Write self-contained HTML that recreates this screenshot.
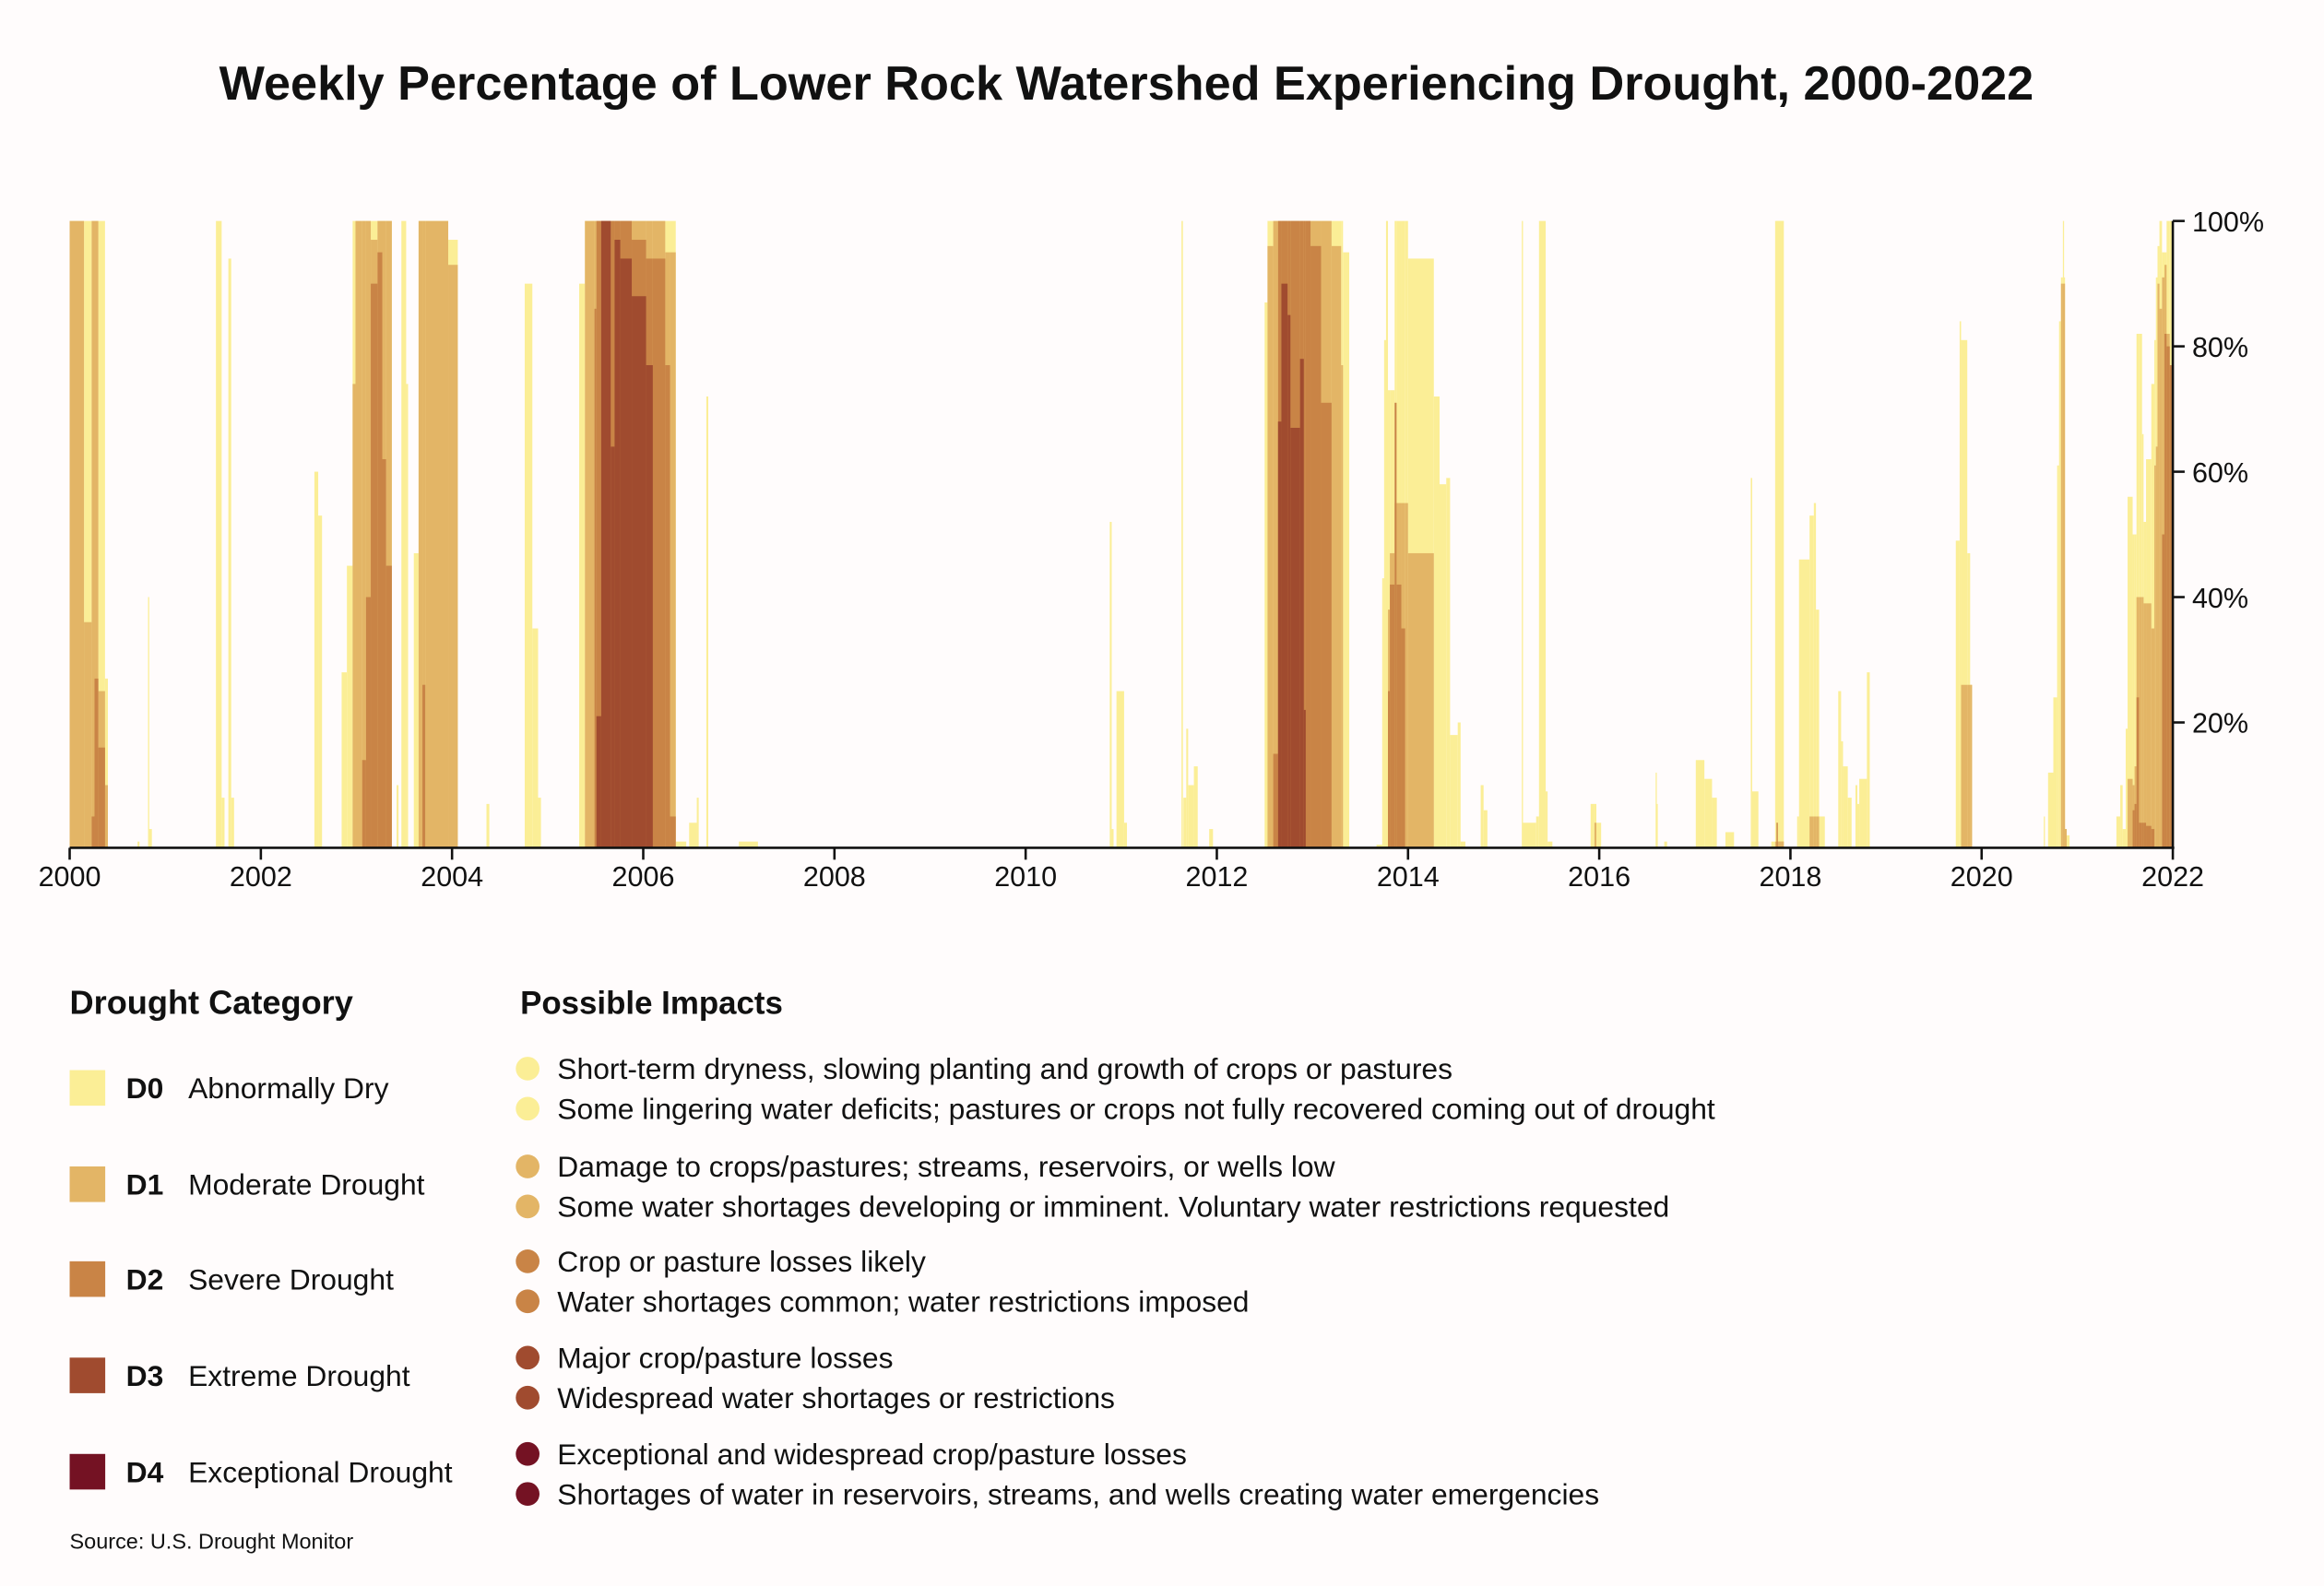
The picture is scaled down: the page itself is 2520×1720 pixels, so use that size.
<!DOCTYPE html>
<html><head><meta charset="utf-8"><style>
html,body{margin:0;padding:0;background:#fffcfc;}
svg{display:block;}
text{font-family:"Liberation Sans",sans-serif;fill:#111;}
</style></head><body>
<svg id="chart" width="2520" height="1720" viewBox="0 0 1568 1070" xmlns="http://www.w3.org/2000/svg">
<rect x="0" y="0" width="1568" height="1070" fill="#fffcfc"/>
<text x="760" y="67" text-anchor="middle" font-size="32.5" font-weight="bold">Weekly Percentage of Lower Rock Watershed Experiencing Drought, 2000-2022</text>
<g id="bars"></g>
<g id="axes"></g>

<text x="47" y="684" font-size="22.5" font-weight="bold">Drought Category</text>
<g font-size="19.8">
<rect x="47" y="722" width="24" height="24" fill="#fbee96"/>
<text x="85" y="741" font-weight="bold">D0</text>
<text x="127" y="741">Abnormally Dry</text>
<rect x="47" y="787" width="24" height="24" fill="#e3b566"/>
<text x="85" y="806" font-weight="bold">D1</text>
<text x="127" y="806">Moderate Drought</text>
<rect x="47" y="851" width="24" height="24" fill="#c98446"/>
<text x="85" y="870" font-weight="bold">D2</text>
<text x="127" y="870">Severe Drought</text>
<rect x="47" y="916" width="24" height="24" fill="#a04b2f"/>
<text x="85" y="935" font-weight="bold">D3</text>
<text x="127" y="935">Extreme Drought</text>
<rect x="47" y="981" width="24" height="24" fill="#741223"/>
<text x="85" y="1000" font-weight="bold">D4</text>
<text x="127" y="1000">Exceptional Drought</text>
</g>

<text x="351" y="684" font-size="21.7" font-weight="bold">Possible Impacts</text>
<g font-size="19.8">
<circle cx="356" cy="721" r="8" fill="#fbee96"/>
<text x="376" y="728">Short-term dryness, slowing planting and growth of crops or pastures</text>
<circle cx="356" cy="748" r="8" fill="#fbee96"/>
<text x="376" y="755">Some lingering water deficits; pastures or crops not fully recovered coming out of drought</text>
<circle cx="356" cy="787" r="8" fill="#e3b566"/>
<text x="376" y="794">Damage to crops/pastures; streams, reservoirs, or wells low</text>
<circle cx="356" cy="814" r="8" fill="#e3b566"/>
<text x="376" y="821">Some water shortages developing or imminent. Voluntary water restrictions requested</text>
<circle cx="356" cy="851" r="8" fill="#c98446"/>
<text x="376" y="858">Crop or pasture losses likely</text>
<circle cx="356" cy="878" r="8" fill="#c98446"/>
<text x="376" y="885">Water shortages common; water restrictions imposed</text>
<circle cx="356" cy="916" r="8" fill="#a04b2f"/>
<text x="376" y="923">Major crop/pasture losses</text>
<circle cx="356" cy="943" r="8" fill="#a04b2f"/>
<text x="376" y="950">Widespread water shortages or restrictions</text>
<circle cx="356" cy="981" r="8" fill="#741223"/>
<text x="376" y="988">Exceptional and widespread crop/pasture losses</text>
<circle cx="356" cy="1008" r="8" fill="#741223"/>
<text x="376" y="1015">Shortages of water in reservoirs, streams, and wells creating water emergencies</text>
</g>
<text x="47" y="1045" font-size="14.6" fill="#333">Source: U.S. Drought Monitor</text>
</svg>
<script>
// Episode data: start year, end year, and % area at >=D0, >=D1, >=D2, >=D3
const segStart = [2000,2000.15,2000.23,2000.26,2000.30,2000.37,2000.71,2000.82,2000.83,2001.53,2001.59,2001.66,2001.69,2002.56,2002.6,
2002.845,2002.9,2002.96,2002.99,2003.06,2003.1,2003.15,2003.22,2003.27,2003.31,2003.42,2003.47,2003.52,2003.6,2003.65,2003.69,2003.72,2003.96,
2004.36,2004.76,2004.84,2004.9,
2005.33,2005.39,2005.49,2005.51,2005.56,2005.66,2005.7,2005.76,2005.88,2006.03,2006.1,2006.23,2006.28,2006.34,2006.48,2006.56,2006.66,2007.0,
2010.88,2010.9,2010.95,2011.03,2011.63,2011.65,2011.68,2011.7,2011.76,2011.92,
2012.5,2012.53,2012.59,2012.64,2012.675,2012.74,2012.77,2012.87,2012.91,2012.93,2012.98,2013.09,2013.2,2013.3,2013.32,
2013.67,2013.73,2013.75,2013.77,2013.79,2013.81,2013.86,2013.88,2013.93,2013.97,2014.0,2014.27,2014.33,2014.4,2014.44,2014.52,2014.55,2014.76,2014.79,
2015.19,2015.2,2015.34,2015.37,2015.44,2015.46,2015.91,2015.95,2015.97,2016.59,2016.6,2016.68,
2017.01,2017.1,2017.18,2017.32,2017.585,2017.6,2017.8,2017.84,2017.855,2017.865,
2018.07,2018.09,2018.2,2018.245,2018.267,2018.3,2018.5,2018.53,2018.55,2018.6,2018.68,2018.7,2018.72,2018.8,
2019.73,2019.77,2019.785,2019.85,2019.88,
2020.65,2020.695,2020.75,2020.79,2020.81,2020.83,2020.85,2020.86,2020.87,2020.89,
2021.41,2021.45,2021.475,2021.507,2021.527,2021.58,2021.6,2021.62,2021.646,2021.678,2021.694,2021.72,2021.775,2021.807,2021.823,2021.84,2021.86,2021.887,2021.913,2021.935,2021.968];
const segEnd = [2000.15,2000.23,2000.26,2000.30,2000.37,2000.40,2000.73,2000.83,2000.86,2001.59,2001.62,2001.69,2001.72,2002.6,2002.64,
2002.9,2002.96,2002.99,2003.06,2003.1,2003.15,2003.22,2003.27,2003.31,2003.37,2003.44,2003.52,2003.54,2003.65,2003.69,2003.72,2003.96,2004.06,
2004.39,2004.84,2004.9,2004.93,
2005.39,2005.49,2005.51,2005.56,2005.66,2005.7,2005.76,2005.88,2006.03,2006.1,2006.23,2006.28,2006.34,2006.45,2006.56,2006.58,2006.68,2007.2,
2010.9,2010.92,2011.03,2011.06,2011.645,2011.68,2011.7,2011.76,2011.8,2011.96,
2012.53,2012.59,2012.64,2012.675,2012.74,2012.77,2012.87,2012.91,2012.93,2012.98,2013.09,2013.2,2013.3,2013.32,2013.385,
2013.73,2013.75,2013.77,2013.79,2013.81,2013.86,2013.88,2013.93,2013.97,2014.0,2014.27,2014.33,2014.4,2014.44,2014.52,2014.55,2014.6,2014.79,2014.83,
2015.2,2015.34,2015.37,2015.44,2015.46,2015.51,2015.95,2015.97,2016.02,2016.6,2016.61,2016.71,
2017.1,2017.18,2017.23,2017.41,2017.6,2017.665,2017.84,2017.93,2017.865,2017.93,
2018.09,2018.2,2018.245,2018.267,2018.3,2018.36,2018.53,2018.55,2018.6,2018.64,2018.7,2018.72,2018.8,2018.83,
2019.77,2019.785,2019.85,2019.88,2019.9,
2020.66,2020.75,2020.79,2020.81,2020.83,2020.85,2020.86,2020.87,2020.89,2020.92,
2021.45,2021.475,2021.507,2021.527,2021.58,2021.6,2021.62,2021.646,2021.678,2021.694,2021.72,2021.775,2021.807,2021.823,2021.84,2021.86,2021.887,2021.913,2021.935,2021.968,2022.01];
const valD0 = [100,100,100,100,100,27,1,40,3,100,8,94,8,60,53,
28,45,100,100,100,100,100,100,100,100,10,100,74,47,100,100,100,97,
7,90,35,8,
90,100,100,100,100,100,100,100,100,100,100,100,100,1,4,8,72,1,
52,3,25,4,100,8,19,10,13,3,
87,100,100,100,100,100,100,100,100,100,100,100,100,100,95,
0.5,43,81,100,73,73,100,100,100,100,94,72,58,59,18,20,1,10,6,
100,4,5,100,9,1,7,7,4,12,7,1,
14,11,8,2.5,59,9,1,100,100,100,
5,46,53,55,38,5,25,17,13,8,10,7,11,28,
49,84,81,47,26,
5,12,24,61,84,91,100,91,3,2,
5,10,3,19,56,50,50,82,82,66,52,62,74,81,91,96,100,95,95,100,100];
const valD1 = [100,36,100,100,25,10,0,0,0,0,0,0,0,0,0,
0,0,74,100,100,100,97,100,100,100,0,0,0,0,100,100,100,93,
0,0,0,0,
0,100,100,100,100,100,100,100,100,100,100,95,95,0,0,0,0,0,
0,0,0,0,0,0,0,0,0,0,
0,96,100,100,100,100,100,100,100,100,100,100,96,77,0,
0,0,0,0,38,47,55,55,55,55,47,0,0,0,0,0,0,0,0,
0,0,0,0,0,0,0,4,0,0,0,0,
0,0,0,0,0,0,0,1,4,1,
0,0,5,5,5,0,0,0,0,0,0,0,0,0,
0,0,26,26,26,
0,0,0,0,0,90,90,90,3,0,
0,0,0,0,11,10,13,40,40,40,39,39,35,61,64,90,86,91,93,82,75];
const valD2 = [0,0,5,27,16,0,0,0,0,0,0,0,0,0,0,
0,0,0,0,14,40,90,95,62,45,0,0,0,0,0,26,0,0,
0,0,0,0,
0,0,86,100,100,100,100,100,97,94,94,77,5,0,0,0,0,0,
0,0,0,0,0,0,0,0,0,0,
0,0,15,100,100,100,100,100,100,100,96,71,0,0,0,
0,0,0,0,25,42,71,42,35,0,0,0,0,0,0,0,0,0,0,
0,0,0,0,0,0,0,0,0,0,0,0,
0,0,0,0,0,0,0,0,4,0,
0,0,0,0,0,0,0,0,0,0,0,0,0,0,
0,0,0,0,0,
0,0,0,0,0,0,0,0,0,0,
0,0,0,0,0,6,7,24,4,4,4,3.5,3,0,0,0,0,50,82,80,77];
const valD3 = [0,0,0,0,0,0,0,0,0,0,0,0,0,0,0,
0,0,0,0,0,0,0,0,0,0,0,0,0,0,0,0,0,0,
0,0,0,0,
0,0,0,21,100,64,97,94,88,77,0,0,0,0,0,0,0,0,
0,0,0,0,0,0,0,0,0,0,
0,0,0,68,90,85,67,78,22,0,0,0,0,0,0,
0,0,0,0,0,0,0,0,0,0,0,0,0,0,0,0,0,0,0,
0,0,0,0,0,0,0,0,0,0,0,0,
0,0,0,0,0,0,0,0,0,0,
0,0,0,0,0,0,0,0,0,0,0,0,0,0,
0,0,0,0,0,
0,0,0,0,0,0,0,0,0,0,
0,0,0,0,0,0,0,0,0,0,0,0,0,0,0,0,0,0,0,0,0];
const xTicks = [2000,2002,2004,2006,2008,2010,2012,2014,2016,2018,2020,2022];
const yTicks = [20,40,60,80,100];

const NS = 'http://www.w3.org/2000/svg';
const X0 = 47, X1 = 1466, Y0 = 572, Y1 = 149;
function xScale(yr){ return X0 + (yr - 2000) / 22 * (X1 - X0); }
function yScale(p){ return Y0 - p / 100 * (Y0 - Y1); }
const colors = ['#fbee96','#e3b566','#c98446','#a04b2f'];
const levels = [valD0, valD1, valD2, valD3];
const bars = document.getElementById('bars');
levels.forEach(function(arr, li){
  for (let i = 0; i < segStart.length; i++) {
    const v = arr[i];
    if (!v) continue;
    const r = document.createElementNS(NS, 'rect');
    const xa = xScale(segStart[i]), xb = xScale(segEnd[i]);
    r.setAttribute('x', xa);
    r.setAttribute('width', Math.max(0.8, xb - xa));
    r.setAttribute('y', yScale(v));
    r.setAttribute('height', Y0 - yScale(v));
    r.setAttribute('fill', colors[li]);
    
    
    bars.appendChild(r);
  }
});
const axes = document.getElementById('axes');
function line(x1,y1,x2,y2,name){
  const l = document.createElementNS(NS,'line');
  l.setAttribute('x1',x1); l.setAttribute('y1',y1); l.setAttribute('x2',x2); l.setAttribute('y2',y2);
  l.setAttribute('stroke','#111'); l.setAttribute('stroke-width','1.6');
  
  
  axes.appendChild(l);
}
function label(x,y,t,anchor,name){
  const e = document.createElementNS(NS,'text');
  e.setAttribute('x',x); e.setAttribute('y',y); e.setAttribute('font-size','19');
  e.setAttribute('text-anchor',anchor); e.textContent = t;
  
  
  axes.appendChild(e);
}
line(X0, Y0, X1 + 1, Y0, 'x-axis-line');
line(X1, Y1, X1, Y0, 'y-axis-line');
xTicks.forEach(function(t){
  const x = xScale(t);
  line(x, Y0, x, Y0 + 8, 'x-tick');
  label(x, Y0 + 26, String(t), 'middle', 'x-tick-label');
});
yTicks.forEach(function(t){
  const y = yScale(t);
  line(X1, y, X1 + 8, y, 'y-tick');
  label(X1 + 13, y + 7, t + '%', 'start', 'y-tick-label');
});
</script>
</body></html>
